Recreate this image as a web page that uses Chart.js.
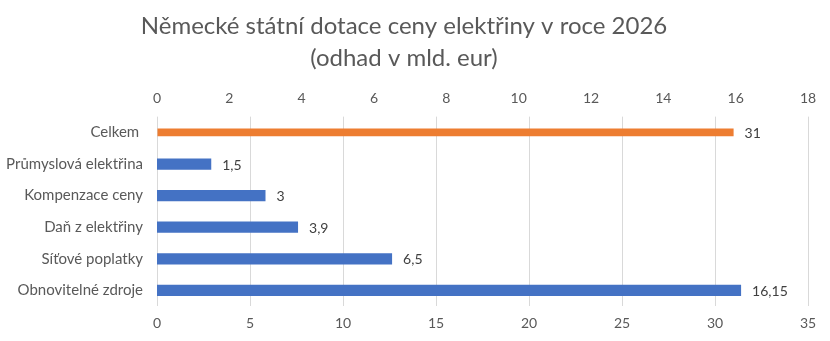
<!DOCTYPE html>
<html>
<head>
<meta charset="utf-8">
<script src="https://cdn.jsdelivr.net/npm/chart.js@4"></script>
<style>
  html, body { margin: 0; padding: 0; background: #fff; }
  #wrap { width: 830px; height: 341px; position: relative; }
</style>
</head>
<body>
<div id="wrap"><canvas id="dotace"></canvas></div>
<script>
// kategorie odshora dolu
const kategorie = ['Celkem ', 'Průmyslová elektřina', 'Kompenzace ceny', 'Daň z elektřiny', 'Síťové poplatky', 'Obnovitelné zdroje'];
// jednotlivé položky (horní osa 0-18)
const polozky = [null, 1.5, 3, 3.9, 6.5, 16.15];
// celkový součet (dolní osa 0-35)
const celkem = [31, null, null, null, null, null];

const textColor = '#595959';

// popisky hodnot vpravo od sloupců
const popisky = {
    id: 'popisky',
    afterDatasetsDraw(chart) {
        const ctx = chart.ctx;
        ctx.save();
        ctx.font = '14px Lato, "Liberation Sans", sans-serif';
        ctx.fillStyle = '#404040';
        ctx.textAlign = 'left';
        ctx.textBaseline = 'middle';
        chart.data.datasets.forEach((ds, i) => {
            chart.getDatasetMeta(i).data.forEach((bar, j) => {
                const v = ds.data[j];
                if (v === null) return;
                ctx.fillText(String(v).replace('.', ','), bar.x + 11, bar.y + 1);
            });
        });
        ctx.restore();
    }
};

new Chart(document.getElementById('dotace'), {
    type: 'bar',
    data: {
        labels: kategorie,
        datasets: [
            {
                label: 'Položky',
                data: polozky,
                backgroundColor: '#4472C4',
                barPercentage: 0.355,
                xAxisID: 'xTop'
            },
            {
                label: 'Celkem',
                data: celkem,
                backgroundColor: '#ED7D31',
                barPercentage: 0.245,
                xAxisID: 'x'
            }
        ]
    },
    options: {
        indexAxis: 'y',
        responsive: true,
        maintainAspectRatio: false,
        animation: false,
        skipNull: true,
        categoryPercentage: 1,
        layout: { padding: { left: 0, right: 22, top: 0, bottom: 0 } },
        scales: {
            xTop: {
                position: 'top',
                min: 0, max: 18,
                ticks: { stepSize: 2, color: textColor, font: { size: 14, family: 'Lato' }, padding: 2 },
                grid: { display: false },
                border: { display: false }
            },
            x: {
                position: 'bottom',
                min: 0, max: 35,
                ticks: { stepSize: 5, color: textColor, font: { size: 14, family: 'Lato' }, padding: 9 },
                grid: { color: '#d9d9d9', drawTicks: false },
                border: { display: false }
            },
            y: {
                ticks: { color: textColor, font: { size: 15, family: 'Lato' }, padding: 14 },
                grid: { display: false, drawTicks: false },
                border: { display: false },
                afterFit(scale) { scale.width = 157; }
            }
        },
        plugins: {
            legend: { display: false },
            tooltip: { enabled: false },
            title: {
                display: true,
                text: ['Německé státní dotace ceny elektřiny v roce 2026', '(odhad v mld. eur)'],
                color: textColor,
                font: { size: 24, family: 'Lato', weight: 'normal', lineHeight: 1.33 },
                padding: { top: 10, bottom: 14 }
            }
        }
    },
    plugins: [popisky]
});
</script>
</body>
</html>
